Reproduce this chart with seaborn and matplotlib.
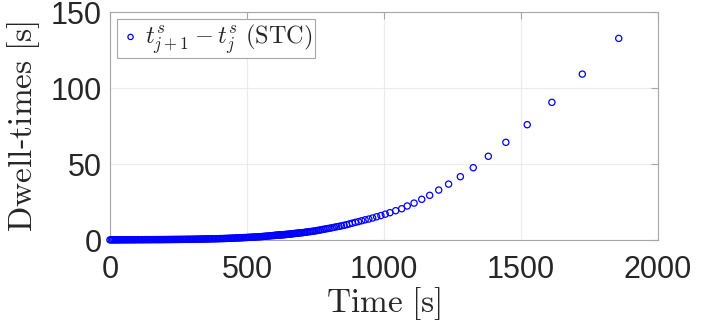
import numpy as np
import pandas as pd
import seaborn as sns
import matplotlib.pyplot as plt

band_time = [0, 5, 10, 15, 20, 25, 30, 35, 40, 45, 50, 55, 60, 65, 70, 75, 80, 85, 90, 95,
             100, 105, 110, 115, 120, 125, 130, 135, 140, 145, 150, 155, 160, 165, 170, 175, 180, 185, 190, 195,
             200, 205, 210, 215, 220, 225, 230, 235, 240, 245, 250, 255, 260, 265, 270, 275, 280, 285, 290, 295,
             300, 305, 310, 315, 320, 325, 330, 335, 340, 345, 350, 355, 360, 365, 370, 375, 380, 385, 390, 395,
             400, 405, 410, 415, 420, 425, 430, 435, 440, 445, 450, 455, 460, 465, 470, 475, 480, 485, 490, 495,
             500, 505, 510, 515, 520, 525, 530, 535, 540, 545, 550, 555, 560, 565, 570, 575, 580, 585, 590, 595]
band_dwell = [0.10, 0.10, 0.10, 0.10, 0.11, 0.11, 0.12, 0.12, 0.13, 0.13, 0.14, 0.14, 0.15, 0.15, 0.16, 0.16, 0.17, 0.17, 0.18, 0.19,
              0.20, 0.20, 0.21, 0.21, 0.22, 0.22, 0.23, 0.23, 0.24, 0.24, 0.25, 0.25, 0.26, 0.26, 0.27, 0.27, 0.28, 0.28, 0.29, 0.29,
              0.30, 0.31, 0.32, 0.33, 0.34, 0.35, 0.36, 0.37, 0.38, 0.39, 0.40, 0.41, 0.42, 0.43, 0.44, 0.45, 0.46, 0.47, 0.48, 0.49,
              0.50, 0.52, 0.54, 0.56, 0.58, 0.60, 0.62, 0.64, 0.66, 0.68, 0.70, 0.72, 0.74, 0.76, 0.78, 0.80, 0.82, 0.84, 0.86, 0.88,
              0.90, 0.93, 0.96, 0.99, 1.02, 1.05, 1.09, 1.13, 1.17, 1.21, 1.25, 1.29, 1.33, 1.37, 1.40, 1.44, 1.49, 1.54, 1.59, 1.64,
              1.69, 1.74, 1.79, 1.84, 1.90, 1.95, 2.00, 2.05, 2.10, 2.15, 2.20, 2.28, 2.36, 2.44, 2.52, 2.60, 2.68, 2.76, 2.84, 2.92]

# switching points from 600 s on, where the circles separate
stc_time = [600, 603, 606, 609, 612, 615, 618, 621.5, 625, 628.5, 632, 635.5, 639, 642.5, 646,
            650, 654, 658, 662, 666, 670, 674, 678.5, 683, 687.5, 692, 696.5, 701, 706, 711,
            716, 721, 726.5, 732, 737.5, 743, 749, 755, 761, 767.5, 774, 781, 788, 795.5, 803,
            811, 819, 827.5, 836, 845, 854.5, 864, 874, 884.5, 895.5, 907, 919, 931.5, 945, 959,
            973.5, 989, 1005, 1022, 1043, 1065, 1085, 1110, 1138, 1167, 1200, 1236, 1279, 1326,
            1381, 1445, 1523, 1613, 1724, 1857]
stc_dwell = [3.00, 3.05, 3.10, 3.15, 3.20, 3.25, 3.30, 3.35, 3.40, 3.45, 3.50, 3.55, 3.60, 3.65, 3.70,
             3.80, 3.90, 3.95, 4.00, 4.10, 4.20, 4.30, 4.40, 4.50, 4.55, 4.65, 4.75, 4.80, 4.90, 5.05,
             5.20, 5.30, 5.45, 5.55, 5.70, 5.85, 6.00, 6.20, 6.40, 6.60, 6.85, 7.10, 7.30, 7.55, 7.80,
             8.10, 8.40, 8.70, 9.00, 9.30, 9.70, 10.1, 10.6, 11.1, 11.6, 12.1, 12.7, 13.3, 13.8, 14.5,
             15.3, 16.1, 17.0, 18.0, 19.3, 20.6, 22.4, 24.3, 26.8, 29.4, 32.9, 36.8, 41.7, 47.6,
             55.1, 64.3, 75.9, 90.6, 109.2, 132.7]

df = pd.DataFrame({"Time": band_time + stc_time, "Dwell": band_dwell + stc_dwell})

sns.set_style("white")
plt.rcParams["font.family"] = ["Liberation Sans", "DejaVu Sans"]
plt.rcParams["mathtext.fontset"] = "cm"

fig = plt.figure(figsize=(7.23, 3.27), dpi=100)
ax = fig.add_axes([0.152, 0.266, 0.758, 0.697])

sns.scatterplot(data=df, x="Time", y="Dwell", ax=ax, marker="o", s=20,
                facecolor="none", edgecolor="#0000ff", linewidth=0.9,
                label=r"$t^s_{j+1} - t^s_j\ \mathrm{(STC)}$", zorder=3, clip_on=False)

ax.set_xlim(0, 2000)
ax.set_ylim(0, 150)
ax.set_xticks([0, 500, 1000, 1500, 2000])
ax.set_yticks([0, 50, 100, 150])
ax.grid(True, color="#ebebeb", linewidth=0.8)
ax.set_axisbelow(True)
for s in ax.spines.values():
    s.set_color("#a6a6a6")
    s.set_linewidth(0.8)
ax.tick_params(direction="in", length=5, width=0.8, color="#a6a6a6",
               labelsize=22, labelcolor="#262626", top=True, right=True)
ax.tick_params(axis="x", pad=11)
ax.tick_params(axis="y", pad=6)

ax.set_xlabel(r"$\mathrm{Time\ [s]}$", fontsize=24, color="#262626", labelpad=0)
ax.set_ylabel(r"$\mathrm{Dwell}$-$\mathrm{times\ [s]}$", fontsize=24, color="#262626", labelpad=6)

leg = ax.legend(loc="upper left", fontsize=17.5, frameon=True, fancybox=False,
                edgecolor="#a6a6a6", framealpha=1, borderpad=0.1, handletextpad=0.15,
                handlelength=0.9, borderaxespad=0.3, markerscale=0.85)
leg.get_frame().set_linewidth(0.8)

fig.savefig("out.png", dpi=100)
